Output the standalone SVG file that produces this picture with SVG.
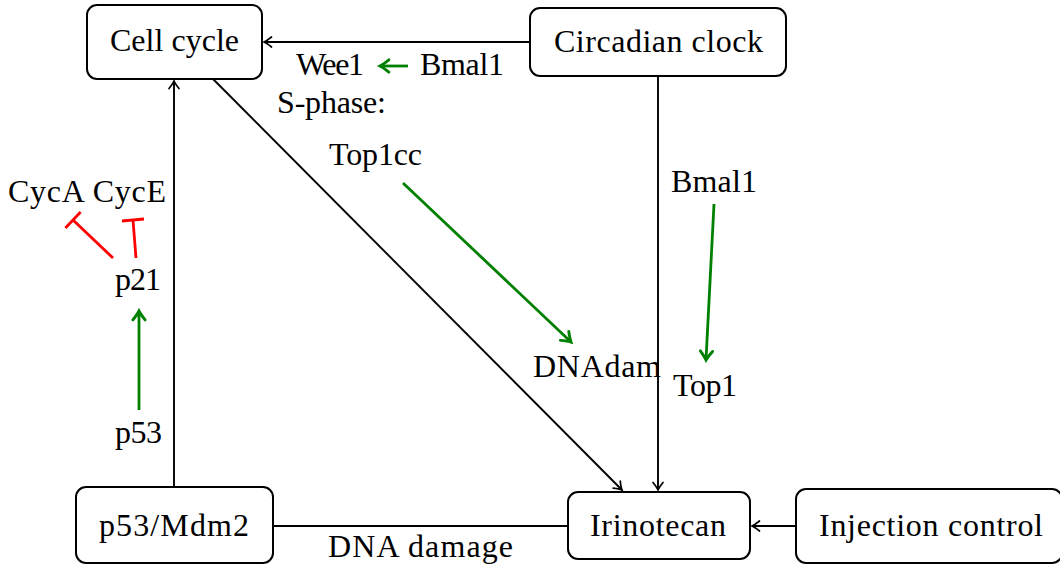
<svg xmlns="http://www.w3.org/2000/svg" width="1060" height="565" viewBox="0 0 1060 565">
<style>
.box{fill:#fff;stroke:#000;stroke-width:2}
.t{font-family:"Liberation Serif","Times New Roman",serif;font-size:32px;fill:#000}
.c{text-anchor:middle}
.blk{stroke:#000;stroke-width:1.9;fill:none}
.grn{stroke:#008000;stroke-width:2.8;fill:none}
.red{stroke:#ff0000;stroke-width:2.8;fill:none}
</style>
<defs>
<marker id="ab" markerUnits="userSpaceOnUse" markerWidth="16" markerHeight="16" viewBox="-10 -8 12 16" refX="0" refY="0" orient="auto">
<path d="M-7.5,-5 Q-2.5,-1 0,0 Q-2.5,1 -7.5,5" fill="none" stroke="#000" stroke-width="1.7" stroke-linecap="round"/>
</marker>
<marker id="ag" markerUnits="userSpaceOnUse" markerWidth="20" markerHeight="20" viewBox="-12 -9 14 18" refX="0" refY="0" orient="auto">
<path d="M-8,-5.5 Q-3,-1.5 0,0 Q-3,1.5 -8,5.5" fill="none" stroke="#008000" stroke-width="2.6" stroke-linecap="round"/>
</marker>
</defs>
<g id="connectors">
<line class="blk" x1="530" y1="42" x2="264" y2="42" marker-end="url(#ab)"/>
<line class="blk" x1="213" y1="79" x2="622" y2="490" marker-end="url(#ab)"/>
<line class="blk" x1="658" y1="76" x2="658" y2="490" marker-end="url(#ab)"/>
<line class="blk" x1="174" y1="487" x2="174" y2="81" marker-end="url(#ab)"/>
<line class="blk" x1="273" y1="526" x2="568" y2="526"/>
<line class="blk" x1="796" y1="526" x2="752" y2="526" marker-end="url(#ab)"/>
<line class="grn" x1="408" y1="66" x2="380" y2="66" marker-end="url(#ag)"/>
<line class="grn" x1="403" y1="183" x2="571" y2="342" marker-end="url(#ag)"/>
<line class="grn" x1="714" y1="204" x2="706" y2="360" marker-end="url(#ag)"/>
<line class="grn" x1="139" y1="410" x2="139" y2="311" marker-end="url(#ag)"/>
<line class="red" x1="113" y1="258" x2="73" y2="220"/>
<line class="red" x1="65.4" y1="228" x2="80.6" y2="212"/>
<line class="red" x1="136" y1="258" x2="133" y2="220"/>
<line class="red" x1="122" y1="221" x2="144" y2="219"/>
</g>
<g id="cell-cycle">
<rect class="box" x="87" y="5" width="175" height="74" rx="10"/>
<text class="t c" x="174.5" y="51" textLength="129">Cell cycle</text>
</g>
<g id="circadian-clock">
<rect class="box" x="530" y="8" width="256" height="68" rx="10"/>
<text class="t c" x="658.5" y="52" textLength="209">Circadian clock</text>
</g>
<g id="p53-mdm2">
<rect class="box" x="76" y="487" width="197" height="76" rx="10"/>
<text class="t c" x="174" y="536" textLength="150">p53/Mdm2</text>
</g>
<g id="irinotecan">
<rect class="box" x="568" y="492" width="182" height="67" rx="10"/>
<text class="t c" x="658" y="536" textLength="136">Irinotecan</text>
</g>
<g id="injection-control">
<rect class="box" x="796" y="489" width="266" height="74" rx="10"/>
<text class="t c" x="931" y="536" textLength="224">Injection control</text>
</g>
<g id="labels">
<text class="t" x="296" y="75" textLength="68">Wee1</text>
<text class="t" x="420" y="75" textLength="84">Bmal1</text>
<text class="t" x="277" y="113" textLength="109">S-phase:</text>
<text class="t" x="329" y="165" textLength="93">Top1cc</text>
<text class="t" x="8" y="202" textLength="158">CycA CycE</text>
<text class="t" x="115" y="290" textLength="46">p21</text>
<text class="t" x="115" y="443" textLength="47">p53</text>
<text class="t" x="671" y="192" textLength="86">Bmal1</text>
<text class="t" x="533" y="377" textLength="128">DNAdam</text>
<text class="t" x="673" y="396" textLength="64">Top1</text>
<text class="t" x="328" y="557" textLength="185">DNA damage</text>
</g>
</svg>
